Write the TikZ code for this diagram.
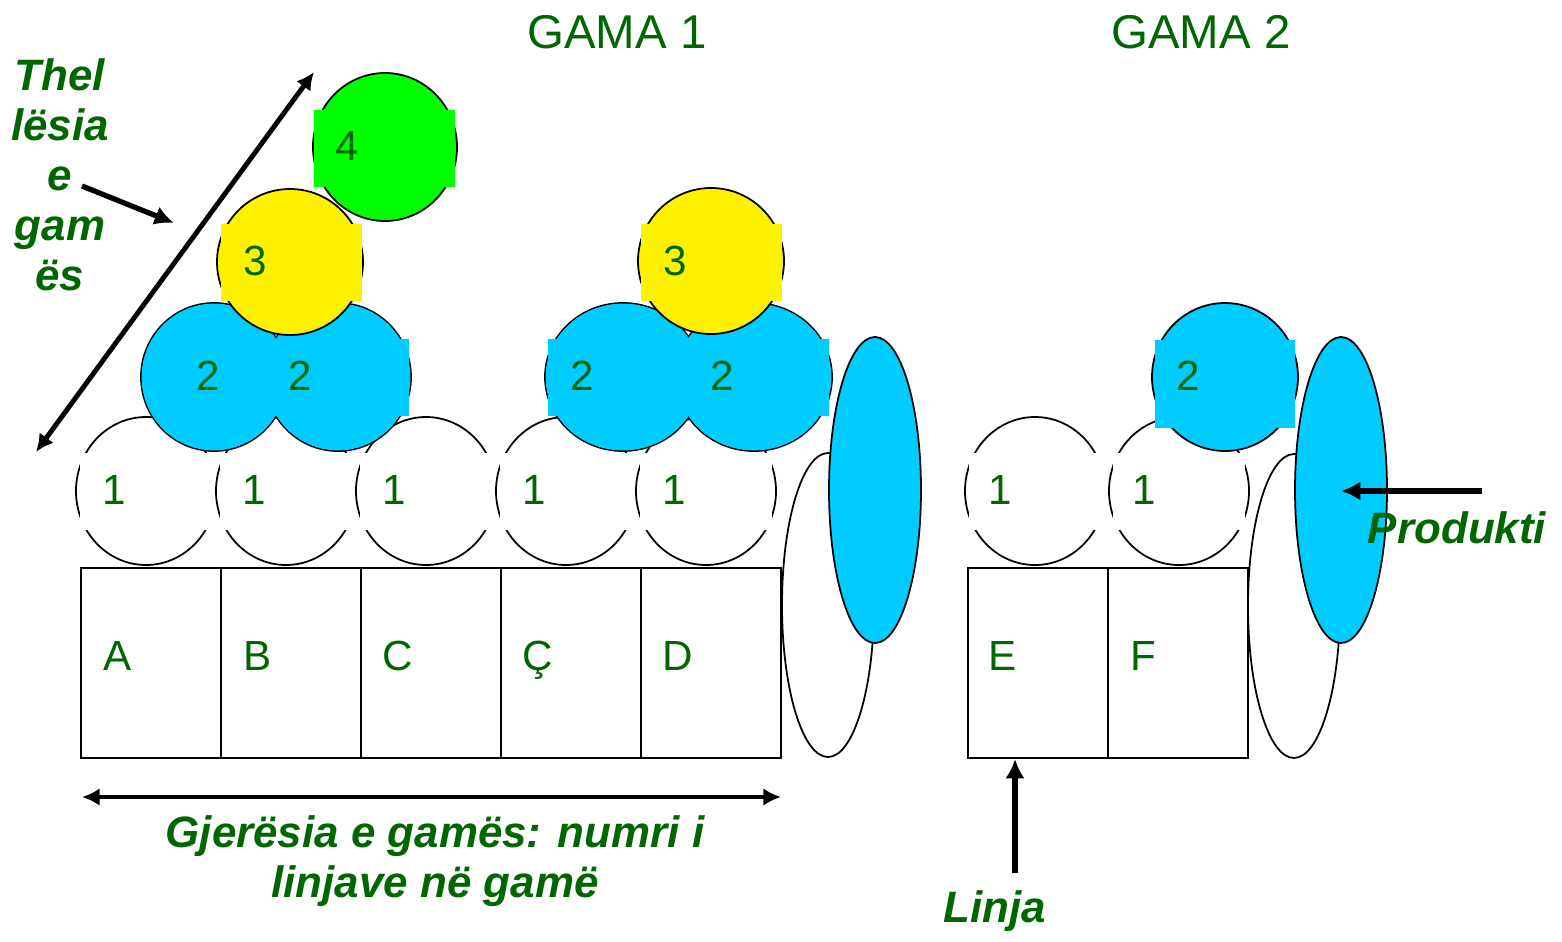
\documentclass[tikz,border=0pt]{standalone}
\usepackage{fontspec}
\setmainfont{Liberation Sans}
\usetikzlibrary{arrows.meta,calc,positioning}
\definecolor{dgreen}{RGB}{0,102,0}
\definecolor{skyblue}{RGB}{0,204,255}
\definecolor{leaf}{RGB}{0,255,0}
\tikzset{
        disc/.style = {draw=black, line width=1pt},
        cell/.style = {draw, rectangle, line width=1pt, inner sep=0pt,
            minimum width=2.8cm,
            minimum height=3.8cm},
        num/.style = {text=dgreen, inner sep=0pt, anchor=base,
            font=\fontsize{24}{28}\selectfont},
        title/.style = {text=dgreen, font=\fontsize{27}{32}\selectfont},
        note/.style = {text=dgreen, inner sep=0pt, align=center,
            font=\fontsize{25}{28.5}\selectfont\bfseries\itshape},
        arrow/.style = {draw, -{Latex[length=11pt, width=11pt]}, line width=3pt},
        twoway/.style = {draw, {Latex[length=10pt, width=10pt]}-{Latex[length=10pt, width=10pt]}, line width=2.8pt},
    }

\begin{document}
\begin{tikzpicture}[x=0.02cm, y=-0.02cm]
  \useasboundingbox (0,0) rectangle (1562,941);

  \node[title] (gama1) at (617,32) {GAMA 1};
  \node[title] (gama2) at (1201,32) {GAMA 2};

  % gama 1, first level
  \foreach \i in {0,...,4} {
    \draw[disc, fill=white] (146+140*\i,491) ellipse [x radius=70, y radius=74];
    \pgfmathsetmacro{\r}{\i<4 ? 73 : 66}
    \fill[white] (80+140*\i,453) rectangle (146+140*\i+\r,530);
    \node[num] (one\i) at (114+140*\i,504) {1};
  }

  % first line: 2 2 3 4
  \foreach \c in {214,338}
    \draw[disc, fill=skyblue] (\c,377) ellipse [x radius=73, y radius=74];
  \foreach \c in {214,338}
    \fill[skyblue] (\c,377) ellipse [x radius=72.4, y radius=73.4];
  \fill[skyblue] (272,339) rectangle (409,416);
  \node[num] (twoA) at (208,390) {2};
  \node[num] (twoB) at (300,390) {2};
  \draw[disc, fill=yellow] (290,262) ellipse [x radius=73, y radius=73];
  \fill[yellow] (221,224) rectangle (362,301);
  \node[num] (threeA) at (255,275) {3};
  \draw[disc, fill=leaf] (385,147) ellipse [x radius=72, y radius=74];
  \fill[leaf] (314,110) rectangle (455,187);
  \node[num] (fourA) at (347,160) {4};

  % second line: 2 2 3
  \foreach \c in {623,754}
    \draw[disc, fill=skyblue] (\c,377) ellipse [x radius=78, y radius=74];
  \foreach \c in {623,754}
    \fill[skyblue] (\c,377) ellipse [x radius=77.4, y radius=73.4];
  \fill[skyblue] (548,339) rectangle (829,416);
  \node[num] (twoC) at (582,390) {2};
  \node[num] (twoD) at (722,390) {2};
  \draw[disc, fill=yellow] (711,261) ellipse [x radius=73, y radius=73];
  \fill[yellow] (641,224) rectangle (782,301);
  \node[num] (threeB) at (675,275) {3};

  % product of gama 1
  \draw[disc, fill=white] (828,605) ellipse [x radius=46, y radius=152];
  \draw[disc, fill=skyblue] (875,490) ellipse [x radius=46, y radius=153];

  \foreach \n/\l [count=\i from 0] in {A/A, B/B, C/C, Cc/Ç, D/D} {
    \node[cell] (box\n) at (151+140*\i,663) {};
    \node[num] (let\n) at (118+140*\i,670) {\l};
  }

  % gama 2
  \foreach \c/\n/\r in {1035/E/73, 1179/F/66} {
    \draw[disc, fill=white] (\c,491) ellipse [x radius=70, y radius=74];
    \fill[white] (\c-66,453) rectangle (\c+\r,530);
    \node[num] (one\n) at (\c-35,504) {1};
  }
  \draw[disc, fill=skyblue] (1225,377) ellipse [x radius=73, y radius=74];
  \fill[skyblue] (1155,340) rectangle (1295,428);
  \node[num] (twoE) at (1188,390) {2};
  \draw[disc, fill=white] (1294,606) ellipse [x radius=46, y radius=152];
  \draw[disc, fill=skyblue] (1341,490) ellipse [x radius=46, y radius=153];
  \foreach \n [count=\i from 0] in {E, F} {
    \node[cell] (box\n) at (1038+140*\i,663) {};
    \node[num] (let\n) at (1003+140*\i,670) {\n};
  }

  % depth
  \coordinate (dlow) at (36,452);
  \coordinate (dhigh) at (314,72);
  \draw[twoway] (dlow) -- (dhigh);
  \node[note] (depth) at (60,175) {Thel\\lësia\\e\\gam\\ës};
  \coordinate (etail) at (82,186);
  \coordinate (etip) at (174,223);
  \draw[arrow] (etail) -- (etip);

  % width
  \coordinate (wleft) at (82,797);
  \coordinate (wright) at (781,797);
  \draw[twoway] (wleft) -- (wright);
  \node[note] (width) at (435,861) {Gjerësia e gamës: numri i\\linjave në gamë};

  % line
  \node[note] (line) at (995,911) {Linja};
  \coordinate (ltail) at (1015,873);
  \coordinate (ltip) at (1015,759);
  \draw[arrow] (ltail) -- (ltip);

  % product
  \node[note] (product) at (1457,528) {Produkti};
  \coordinate (ptail) at (1482,491);
  \coordinate (ptip) at (1341,491);
  \draw[arrow] (ptail) -- (ptip);
\end{tikzpicture}
\end{document}
